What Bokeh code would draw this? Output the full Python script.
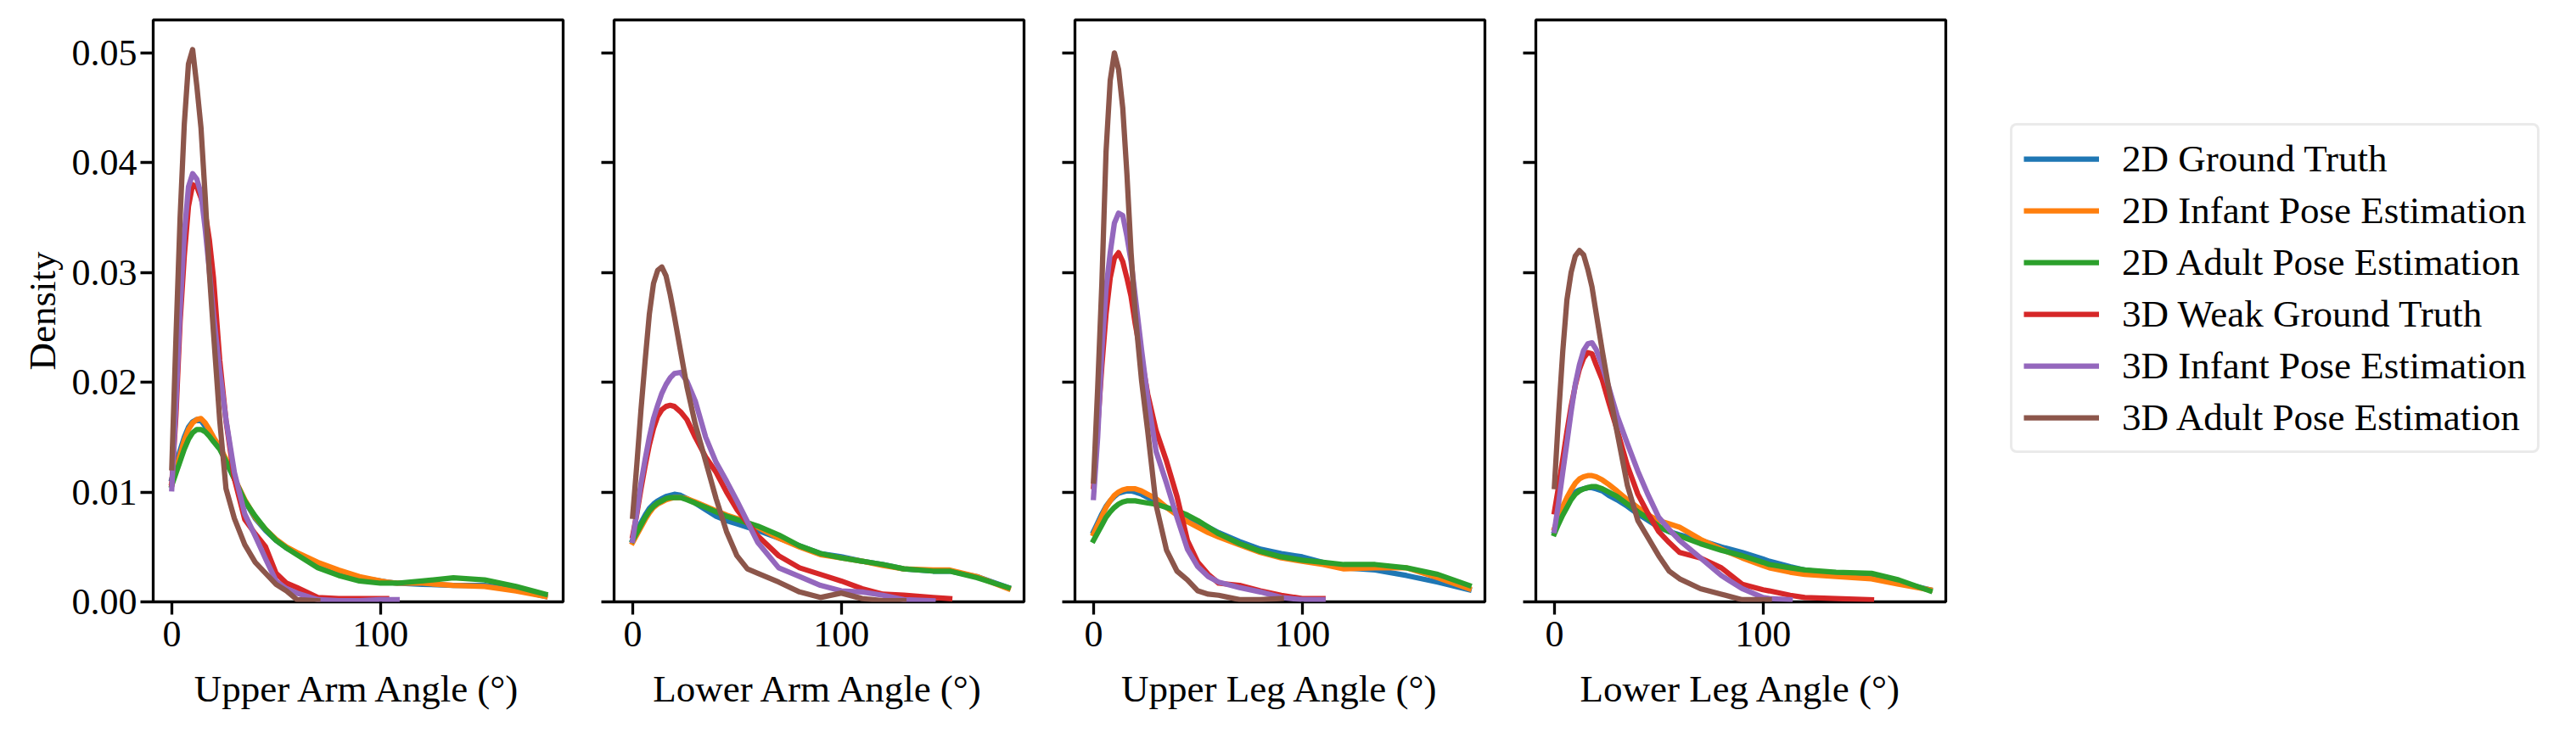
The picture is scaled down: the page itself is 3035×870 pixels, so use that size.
from bokeh.plotting import figure
from bokeh.layouts import row
from bokeh.models import FixedTicker, PrintfTickFormatter, Range1d, Legend, LegendItem
from bokeh.embed import file_html
from bokeh.resources import INLINE

# ---------------- data (density) ----------------
series_names = ["2D Ground Truth", "2D Infant Pose Estimation", "2D Adult Pose Estimation",
                "3D Weak Ground Truth", "3D Infant Pose Estimation", "3D Adult Pose Estimation"]
series_colors = ["#1f77b4", "#ff7f0e", "#2ca02c", "#d62728", "#9467bd", "#8c564b"]
x_labels = ["Upper Arm Angle (°)", "Lower Arm Angle (°)", "Upper Leg Angle (°)", "Lower Leg Angle (°)"]
x_ticks = [0, 100]
y_ticks = [0.0, 0.01, 0.02, 0.03, 0.04, 0.05]

# Upper arm
ua_x = [0, 2, 4, 6, 8, 10, 12, 14, 16, 18, 20, 23, 26, 30, 35, 40, 45, 50, 55, 60, 70, 80, 90, 100, 103, 108, 120, 135, 150, 165, 179]
ua_gt2d = [.0112, .0125, .0138, .0150, .0159, .0164, .0166, .0165, .0160, .0154, .0148, .0140, .0128, .0112, .0092, .0076, .0065, .0056, .0049, .0044, .0034, .0028, .0022, .0019, .0018, .0017, .0016, .0015, .0015, .0011, .0005]
ua_inf2d = [.0108, .0120, .0134, .0147, .0157, .0163, .0166, .0167, .0163, .0157, .0150, .0141, .0130, .0113, .0093, .0077, .0066, .0057, .0050, .0045, .0036, .0029, .0023, .0019, .0018, .0017, .0017, .0015, .0014, .0010, .0005]
ua_adu2d = [.0106, .0117, .0128, .0139, .0148, .0154, .0157, .0157, .0155, .0151, .0146, .0139, .0128, .0112, .0092, .0078, .0066, .0056, .0049, .0043, .0031, .0024, .0019, .0017, .0017, .0017, .0019, .0022, .0020, .0014, .0007]
ua_gt3d = [.0107, .0170, .0255, .0315, .0360, .0380, .0378, .0368, .0355, .0330, .0295, .0220, .0165, .0112, .0075, .0062, .0050, .0026, .0017, .0013, .0004, .0003, .0003, .0003, .0003]
ua_inf3d = [.0103, .0180, .0265, .0335, .0378, .0390, .0385, .0372, .0340, .0302, .0262, .0210, .0166, .0118, .0080, .0060, .0039, .0019, .0012, .0008, .0002, .0001, .0001, .0002, .0002, .0002]
ua_adu3d = [.0122, .0240, .0350, .0435, .0490, .0503, .0470, .0432, .0370, .0300, .0245, .0165, .0103, .0076, .0052, .0036, .0026, .0016, .0010, .0002, .0001]

# Lower arm
la_x = [0, 2, 4, 6, 8, 10, 12, 14, 16, 18, 20, 23, 26, 30, 35, 40, 45, 50, 55, 60, 70, 80, 90, 100, 110, 120, 130, 144, 152, 165, 180]
la_gt2d = [.0056, .0064, .0072, .0079, .0085, .0089, .0092, .0094, .0096, .0097, .0098, .0097, .0094, .0090, .0084, .0078, .0074, .0071, .0068, .0065, .0058, .0051, .0044, .0041, .0037, .0034, .0030, .0028, .0028, .0023, .0013]
la_inf2d = [.0054, .0061, .0068, .0075, .0081, .0086, .0089, .0091, .0093, .0094, .0095, .0095, .0094, .0091, .0087, .0083, .0079, .0076, .0072, .0068, .0058, .0050, .0043, .0040, .0037, .0033, .0030, .0029, .0029, .0023, .0012]
la_adu2d = [.0056, .0063, .0070, .0077, .0083, .0087, .0090, .0092, .0094, .0095, .0095, .0095, .0093, .0090, .0086, .0082, .0078, .0075, .0072, .0069, .0061, .0051, .0044, .0040, .0037, .0034, .0030, .0028, .0028, .0022, .0013]
la_gt3d = [.0060, .0080, .0103, .0124, .0143, .0158, .0169, .0175, .0178, .0179, .0178, .0173, .0166, .0150, .0132, .0118, .0100, .0084, .0072, .0060, .0042, .0031, .0025, .0019, .0012, .0007, .0006, .0004, .0003]
la_inf3d = [.0056, .0082, .0108, .0130, .0150, .0167, .0179, .0190, .0198, .0204, .0208, .0209, .0201, .0183, .0150, .0127, .0110, .0092, .0073, .0054, .0031, .0023, .0015, .0010, .0009, .0006, .0002, .0001]
la_adu3d = [.0078, .0125, .0175, .0220, .0262, .0290, .0302, .0305, .0297, .0280, .0260, .0228, .0196, .0162, .0128, .0094, .0064, .0042, .0030, .0026, .0018, .0009, .0004, .0008, .0003, .0001, .0001]

# Upper leg
ul_x = [0, 2, 4, 6, 8, 10, 12, 14, 16, 18, 20, 23, 26, 30, 35, 40, 45, 50, 55, 60, 70, 80, 90, 100, 110, 120, 135, 150, 165, 180]
ul_gt2d = [.0064, .0072, .0080, .0087, .0092, .0096, .0099, .0100, .0101, .0101, .0100, .0098, .0095, .0091, .0086, .0081, .0077, .0072, .0068, .0063, .0055, .0048, .0044, .0041, .0036, .0031, .0029, .0024, .0018, .0011]
ul_inf2d = [.0062, .0070, .0078, .0086, .0092, .0097, .0100, .0102, .0103, .0103, .0103, .0101, .0098, .0094, .0086, .0079, .0073, .0068, .0063, .0059, .0052, .0045, .0040, .0037, .0034, .0030, .0031, .0031, .0022, .0012]
ul_adu2d = [.0056, .0063, .0070, .0077, .0082, .0086, .0089, .0091, .0092, .0092, .0092, .0091, .0090, .0089, .0086, .0083, .0079, .0074, .0068, .0062, .0053, .0046, .0041, .0038, .0036, .0034, .0034, .0031, .0025, .0015]
ul_gt3d = [.0105, .0160, .0215, .0262, .0295, .0313, .0318, .0310, .0295, .0278, .0253, .0222, .0189, .0156, .0128, .0096, .0056, .0036, .0025, .0017, .0015, .0010, .0006, .0003, .0003]
ul_inf3d = [.0095, .0150, .0228, .0285, .0318, .0345, .0354, .0352, .0333, .0310, .0278, .0230, .0185, .0137, .0108, .0077, .0048, .0032, .0023, .0018, .0013, .0009, .0004, .0002, .0002]
ul_adu3d = [.0110, .0195, .0290, .0410, .0475, .0500, .0485, .0450, .0390, .0318, .0262, .0202, .0155, .0088, .0047, .0028, .0020, .0010, .0007, .0006, .0002, .0002, .0003]

# Lower leg
ll_x = [0, 2, 4, 6, 8, 10, 12, 14, 16, 18, 20, 23, 26, 30, 35, 40, 45, 50, 55, 60, 70, 80, 90, 100, 103, 113, 120, 135, 152, 165, 180]
ll_gt2d = [.0064, .0073, .0082, .0090, .0096, .0100, .0102, .0103, .0104, .0104, .0103, .0101, .0097, .0093, .0087, .0080, .0074, .0068, .0064, .0061, .0056, .0050, .0045, .0039, .0037, .0032, .0029, .0025, .0022, .0018, .0011]
ll_inf2d = [.0067, .0077, .0087, .0095, .0102, .0108, .0112, .0114, .0115, .0115, .0114, .0111, .0107, .0101, .0093, .0086, .0079, .0074, .0071, .0068, .0057, .0048, .0040, .0033, .0031, .0027, .0025, .0023, .0021, .0016, .0011]
ll_adu2d = [.0062, .0071, .0079, .0086, .0093, .0098, .0101, .0103, .0104, .0105, .0105, .0103, .0100, .0096, .0089, .0082, .0076, .0069, .0064, .0060, .0053, .0047, .0042, .0036, .0034, .0031, .0029, .0027, .0026, .0020, .0010]
ll_gt3d = [.0082, .0105, .0130, .0155, .0178, .0197, .0212, .0222, .0227, .0226, .0216, .0202, .0182, .0157, .0124, .0098, .0080, .0064, .0054, .0045, .0040, .0031, .0016, .0011, .0010, .0006, .0004, .0003, .0002]
ll_inf3d = [.0065, .0090, .0118, .0145, .0173, .0198, .0216, .0229, .0235, .0236, .0230, .0214, .0196, .0170, .0144, .0119, .0097, .0077, .0066, .0056, .0040, .0024, .0012, .0004, .0003, .0002]
ll_adu3d = [.0105, .0170, .0228, .0275, .0300, .0315, .0320, .0316, .0303, .0287, .0263, .0228, .0195, .0155, .0106, .0074, .0058, .0042, .0028, .0021, .0012, .0007, .0002, .0002, .0002]

panels = [
    (ua_x, [ua_gt2d, ua_inf2d, ua_adu2d, ua_gt3d, ua_inf3d, ua_adu3d]),
    (la_x, [la_gt2d, la_inf2d, la_adu2d, la_gt3d, la_inf3d, la_adu3d]),
    (ul_x, [ul_gt2d, ul_inf2d, ul_adu2d, ul_gt3d, ul_inf3d, ul_adu3d]),
    (ll_x, [ll_gt2d, ll_inf2d, ll_adu2d, ll_gt3d, ll_inf3d, ll_adu3d]),
]

# ---------------- styling ----------------
FONT = "Liberation Serif"
TICK_FS = "44px"
LABEL_FS = "45px"
LW = 6.25

borders_left = [180, 30, 30, 30]
borders_right = [30, 30, 30, 20]

figs = []
for i, (xs, ys_list) in enumerate(panels):
    p = figure(frame_width=483, frame_height=686,
               x_range=Range1d(-8.9, 187.6), y_range=Range1d(0, 0.053),
               min_border_top=23, min_border_bottom=145,
               min_border_left=borders_left[i], min_border_right=borders_right[i],
               output_backend="svg", toolbar_location=None)
    for ys, col in zip(ys_list, series_colors):
        p.line(xs[:len(ys)], ys, line_color=col, line_width=LW,
               line_join="round", line_cap="square")
    p.xaxis.ticker = FixedTicker(ticks=x_ticks)
    if i == 0:
        p.yaxis.ticker = FixedTicker(ticks=y_ticks)
    else:
        # shared y axis: tick marks only, no labels
        p.yaxis.ticker = FixedTicker(ticks=[], minor_ticks=y_ticks)
    p.yaxis.formatter = PrintfTickFormatter(format="%.2f")
    for ax in p.axis:
        ax.axis_line_color = None
        ax.major_tick_line_color = "black"
        ax.major_tick_line_width = 3.3
        ax.major_tick_in = 0
        ax.major_tick_out = 15
        ax.minor_tick_line_color = None
        ax.major_label_text_font = FONT
        ax.major_label_text_font_size = TICK_FS
        ax.major_label_text_color = "black"
        ax.axis_label_text_font = FONT
        ax.axis_label_text_font_size = LABEL_FS
        ax.axis_label_text_font_style = "normal"
        ax.axis_label_text_color = "black"
    p.xaxis.axis_label = x_labels[i]
    p.xaxis.major_label_standoff = 8
    p.xaxis.axis_label_standoff = 22
    if i == 0:
        p.yaxis.axis_label = "Density"
        p.yaxis.major_label_standoff = 4
        p.yaxis.axis_label_standoff = 7
    else:
        p.yaxis.minor_tick_line_color = "black"
        p.yaxis.minor_tick_line_width = 3.3
        p.yaxis.minor_tick_in = 0
        p.yaxis.minor_tick_out = 15
        p.yaxis.major_label_standoff = 0
    p.grid.grid_line_color = None
    p.outline_line_color = "black"
    p.outline_line_width = 3.3
    p.background_fill_color = "white"
    p.border_fill_color = "white"
    figs.append(p)

# legend panel
pl = figure(frame_width=707, frame_height=686, x_range=Range1d(0, 1), y_range=Range1d(0, 1),
            min_border_top=23, min_border_bottom=145, min_border_left=0, min_border_right=0,
            x_axis_location=None, y_axis_location=None,
            output_backend="svg", toolbar_location=None)
pl.grid.grid_line_color = None
pl.outline_line_color = None
items = []
for name, col in zip(series_names, series_colors):
    # legend-only renderers (kept outside the visible range)
    r = pl.line(x=[5, 6], y=[5, 5], line_color=col, line_width=LW)
    items.append(LegendItem(label=name, renderers=[r]))
legend = Legend(items=items, location=(56, 175),
                label_text_font=FONT, label_text_font_size=LABEL_FS, label_text_color="black",
                glyph_width=89, glyph_height=52, label_height=52, spacing=9,
                padding=13, label_standoff=27, margin=0,
                border_line_color="#d6d6d6", border_line_width=3,
                background_fill_color="white", background_fill_alpha=1)
if "border_radius" in Legend.properties():
    legend.border_radius = 8
pl.add_layout(legend, "center")
figs.append(pl)

layout = row(*figs)
open("out.html", "w").write(file_html(layout, INLINE))
